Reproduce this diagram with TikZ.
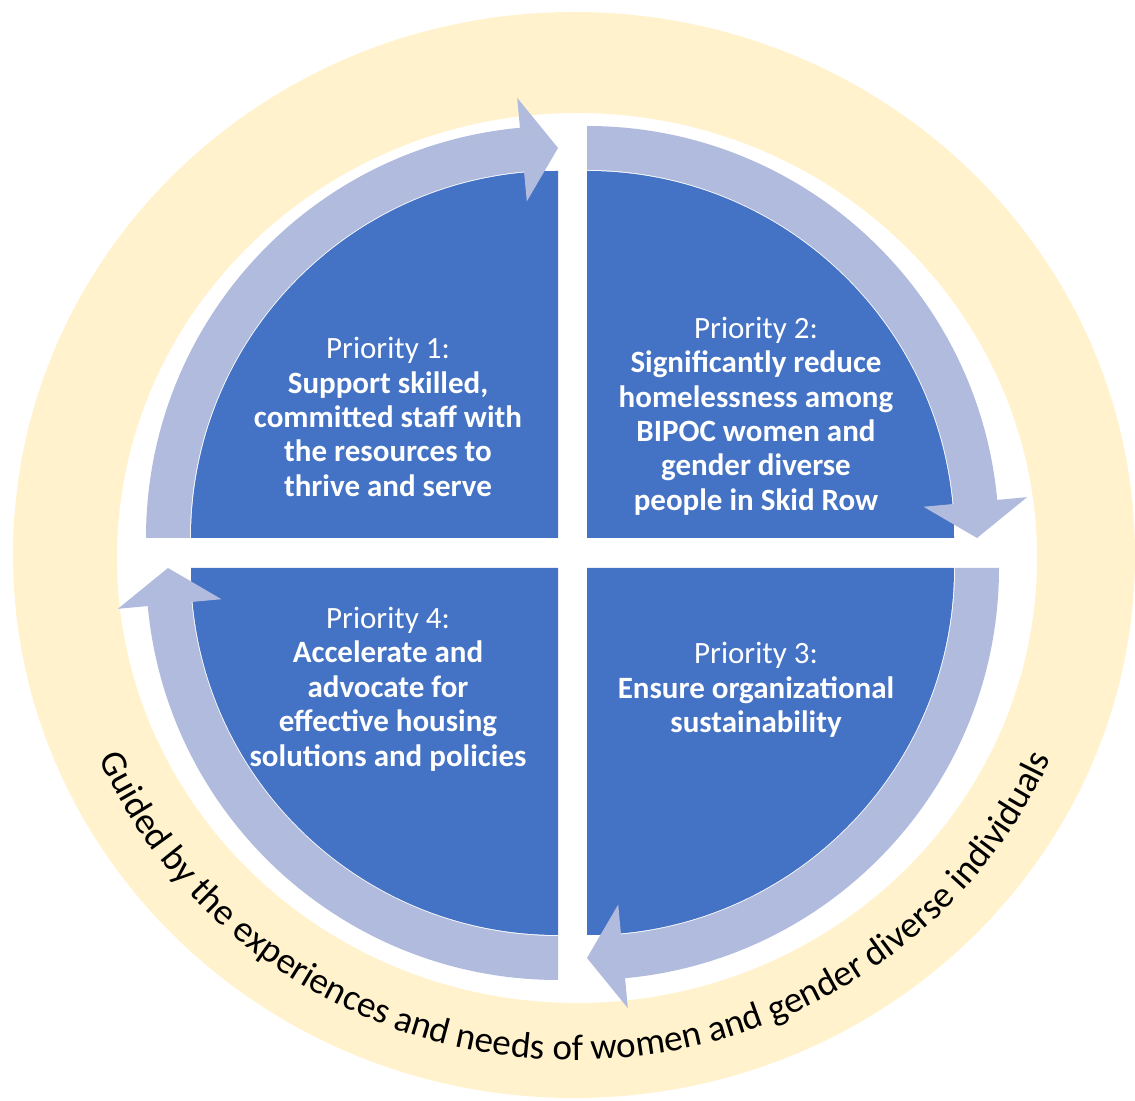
\documentclass[tikz,border=0pt]{standalone}
\usepackage{fontspec}
\setmainfont{Carlito}
\usetikzlibrary{decorations.text}

\definecolor{ringgold}{HTML}{FFF2CC}
\definecolor{quadblue}{HTML}{4472C4}
\definecolor{arrowblue}{RGB}{176,187,221}

% circular arrow around one quadrant: #1 corner, #2 start angle (runs clockwise 90 degrees)
\newcommand\cyclearc[2]{%
  \begin{scope}[shift={(#1)}]
    \pgfmathsetmacro\arcend{#2-90}%
    \pgfmathsetmacro\arcbase{#2-84.7}%
    \fill[cyclearrow] (#2:412) arc[start angle=#2, end angle=\arcbase, radius=412]
      -- (\arcbase:442) -- (\arcend:390) -- (\arcbase:338) -- (\arcbase:368)
      arc[start angle=\arcbase, end angle=#2, radius=368] -- cycle;
  \end{scope}}

\newcommand\guidefont{\fontsize{18.5}{22}\selectfont}

\begin{document}
\begin{tikzpicture}[x=0.5pt,y=0.5pt,
  quad/.style={fill=quadblue},
  cyclearrow/.style={fill=arrowblue},
  prio/.style={text=white, align=center, inner sep=0pt,
    font=\fontsize{15.5}{17.2}\selectfont}]

\useasboundingbox (0,0) rectangle (1135,1101);

% outer guiding ring
\fill[ringgold, even odd rule]
  (574,546) ellipse[x radius=561, y radius=543]
  (577,543) ellipse[x radius=460, y radius=445];

% quadrant corners
\coordinate (c1) at (558,563);
\coordinate (c2) at (587,563);
\coordinate (c3) at (587,533);
\coordinate (c4) at (558,533);

% blue quadrants
\fill[quad] (c1) -- ++(0,367) arc[start angle=90, end angle=180, radius=367] -- cycle;
\fill[quad] (c2) -- ++(367,0) arc[start angle=0, end angle=90, radius=367] -- cycle;
\fill[quad] (c3) -- ++(0,-367) arc[start angle=-90, end angle=0, radius=367] -- cycle;
\fill[quad] (c4) -- ++(-367,0) arc[start angle=180, end angle=270, radius=367] -- cycle;

% clockwise arrows
\cyclearc{c1}{180}
\cyclearc{c2}{90}
\cyclearc{c3}{0}
\cyclearc{c4}{-90}

% priorities
\node[prio] (p1) at (388,684) {Priority 1:\\\textbf{Support skilled,}\\\textbf{committed staff with}\\\textbf{the resources to}\\\textbf{thrive and serve}};
\node[prio] (p2) at (756,685) {Priority 2:\\\textbf{Significantly reduce}\\\textbf{homelessness among}\\\textbf{BIPOC women and}\\\textbf{gender diverse}\\\textbf{people in Skid Row}};
\node[prio] (p3) at (756,411) {Priority 3:\\\textbf{Ensure organizational}\\\textbf{sustainability}};
\node[prio] (p4) at (388,412) {Priority 4:\\\textbf{Accelerate and}\\\textbf{advocate for}\\\textbf{effective housing}\\\textbf{solutions and policies}};

% guiding statement along the ring
\coordinate (rc) at (575,546);
\path[decorate, decoration={text along path, text align=center,
    text={|\guidefont|Guided by the experiences and needs of women and gender diverse individuals}}]
  (rc) ++(190:520 and 505) arc[start angle=190, end angle=350, x radius=520, y radius=505];

\end{tikzpicture}
\end{document}
